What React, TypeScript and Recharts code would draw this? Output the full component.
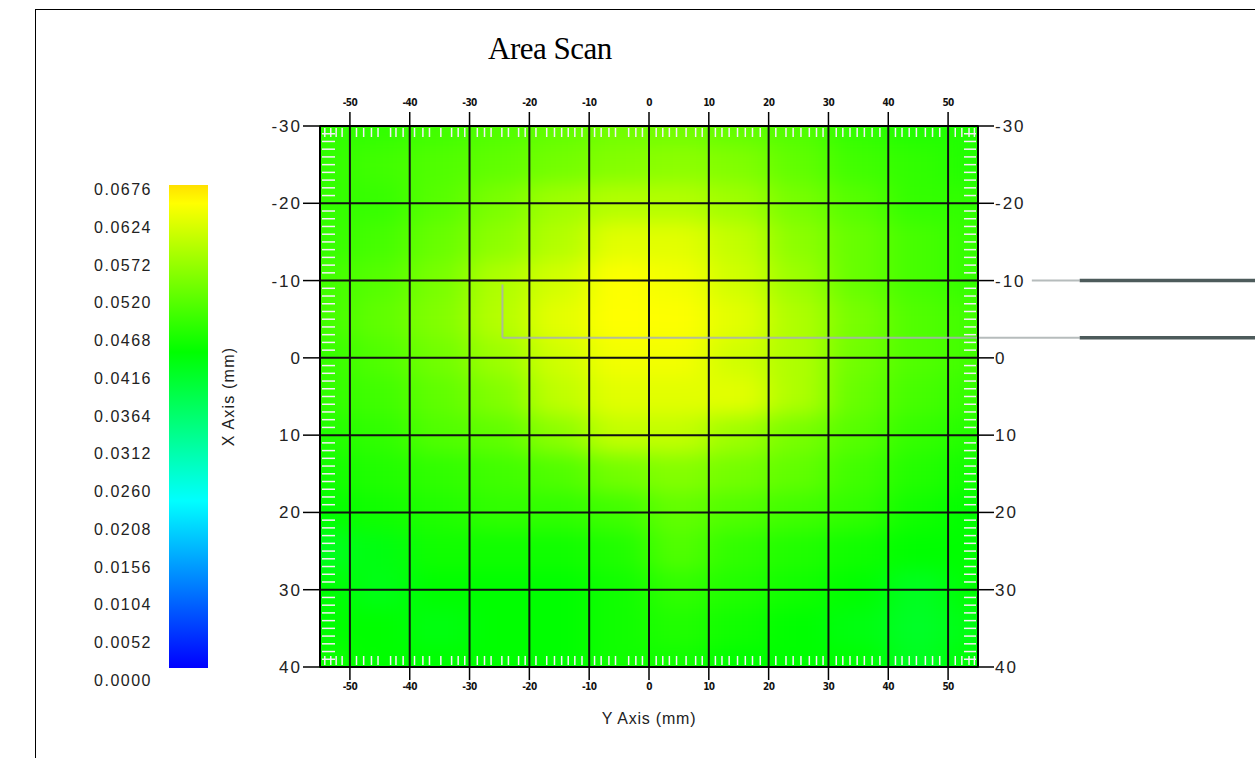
import React from 'react';
import {
  ScatterChart,
  Scatter,
  XAxis,
  YAxis,
  CartesianGrid,
  ReferenceLine,
} from 'recharts';

// scan grid (Y axis mm across, X axis mm down)
const scanCols = [-55, -45, -35, -25, -15, -5, 5, 15, 25, 35, 45, 55];
const scanRows = [-30, -25, -20, -15, -10, -5, 0, 5, 10, 15, 20, 25, 30, 35, 40];
const intensity = [
  [0.0481, 0.0481, 0.0494, 0.0507, 0.052, 0.0533, 0.0533, 0.052, 0.0507, 0.0481, 0.0468, 0.0468],
  [0.0481, 0.0494, 0.0507, 0.052, 0.0536, 0.055, 0.0556, 0.0546, 0.052, 0.0494, 0.0481, 0.0468],
  [0.0484, 0.0486, 0.0513, 0.0542, 0.0572, 0.0588, 0.0588, 0.0572, 0.0539, 0.0511, 0.0484, 0.0481],
  [0.0484, 0.0498, 0.0527, 0.0558, 0.0588, 0.0626, 0.0626, 0.06, 0.0556, 0.0525, 0.0498, 0.0484],
  [0.0494, 0.0511, 0.0541, 0.0585, 0.0614, 0.0648, 0.064, 0.0612, 0.0569, 0.0525, 0.0498, 0.0484],
  [0.0494, 0.052, 0.0548, 0.059, 0.0628, 0.065, 0.0648, 0.0626, 0.0584, 0.0539, 0.0507, 0.0494],
  [0.0484, 0.0507, 0.0535, 0.057, 0.0612, 0.064, 0.064, 0.0612, 0.0584, 0.0533, 0.0507, 0.0494],
  [0.0481, 0.0494, 0.052, 0.0548, 0.0598, 0.0626, 0.0626, 0.0626, 0.0584, 0.0525, 0.0498, 0.0484],
  [0.0468, 0.0481, 0.0507, 0.052, 0.0556, 0.06, 0.06, 0.057, 0.0539, 0.0511, 0.0484, 0.047],
  [0.0455, 0.0468, 0.0481, 0.0494, 0.0507, 0.0536, 0.055, 0.0536, 0.052, 0.0494, 0.047, 0.0455],
  [0.0442, 0.0455, 0.0468, 0.0481, 0.0481, 0.0494, 0.0522, 0.0507, 0.0494, 0.0481, 0.0455, 0.0442],
  [0.0416, 0.0429, 0.0455, 0.0455, 0.0455, 0.0468, 0.0507, 0.0481, 0.0468, 0.0455, 0.0442, 0.0442],
  [0.0442, 0.0425, 0.0442, 0.0442, 0.0442, 0.0455, 0.0481, 0.0468, 0.0455, 0.0442, 0.0416, 0.0442],
  [0.0442, 0.0442, 0.0429, 0.0442, 0.0442, 0.0455, 0.0468, 0.0455, 0.0442, 0.0429, 0.041, 0.0429],
  [0.0455, 0.0442, 0.0442, 0.0442, 0.0442, 0.0455, 0.0455, 0.0442, 0.0442, 0.0442, 0.0416, 0.0442],
];

const xTicks = [-50, -40, -30, -20, -10, 0, 10, 20, 30, 40, 50];
const yTicks = [-30, -20, -10, 0, 10, 20, 30, 40];

// scan point markers along the edges
const edgeTicksX = [
  -54.2, -53.2, -52.3, -51.3, -48.9, -47.7, -46.4, -45.3, -43.2, -42.3, -41.1, -39.2, -37.8, -36.7,
  -34.8, -33.0, -31.9, -30.8, -28.7, -27.5, -26.4, -24.6, -23.5, -21.8, -20.7, -18.9, -17.1, -15.8,
  -14.6, -13.5, -12.4, -11.2, -9.1, -8.0, -6.7, -5.6, -3.4, -2.2, -1.1, 1.2, 2.3, 3.4, 4.6, 6.2, 7.8,
  8.9, 11.1, 12.2, 13.4, 14.8, 16.1, 17.3, 18.6, 21.2, 22.9, 24.1, 25.4, 26.8, 28.0, 29.1, 31.3, 32.4,
  33.6, 34.8, 36.0, 37.3, 38.6, 41.2, 42.3, 43.5, 44.7, 46.2, 47.4, 48.6, 51.2, 52.3, 53.5, 54.4,
];
const edgeTicksY = [
  -29, -28, -27, -26, -25, -24, -23, -22, -21, -19, -18, -17, -16, -15, -14, -13, -12, -11,
  -9, -8, -7, -6, -5, -4, -3, -2, -1, 1, 2, 3, 4, 5, 6, 7, 8, 9, 11, 12, 13, 14, 15, 16, 17, 18, 19,
  21, 22, 23, 24, 25, 26, 27, 28, 29, 31, 32, 33, 34, 35, 36, 37, 38, 39,
];

// probe outline (light inside, dark cable to the right)
const probeLight = [
  [{ x: -24.5, y: -9.5 }, { x: -24.5, y: -2.6 }],
  [{ x: -24.5, y: -2.6 }, { x: 72, y: -2.6 }],
  [{ x: 64, y: -10 }, { x: 72, y: -10 }],
];
const probeDark = [
  [{ x: 72, y: -10 }, { x: 102, y: -10 }],
  [{ x: 72, y: -2.6 }, { x: 102, y: -2.6 }],
];

const colorbarLabels = [
  '0.0676', '0.0624', '0.0572', '0.0520', '0.0468', '0.0416', '0.0364',
  '0.0312', '0.0260', '0.0208', '0.0156', '0.0104', '0.0052', '0.0000',
];
const colorStops: [number, string][] = [
  [0, '#0000ff'],
  [0.0234, '#00ffff'],
  [0.0442, '#00ff00'],
  [0.065, '#ffff00'],
  [0.0676, '#ffe000'],
];
const zMax = 0.0676;

const W = 1255;
const H = 758;
const MARGIN = { top: 76, right: 227, bottom: 41, left: 220 };
const LEFT_W = 100;
const RIGHT_W = 50;
const TOP_H = 50;
const BOTTOM_H = 50;
const X_DOMAIN: [number, number] = [-55, 55];
const Y_DOMAIN: [number, number] = [-30, 40];
const plotW = W - MARGIN.left - MARGIN.right - LEFT_W - RIGHT_W;
const plotH = H - MARGIN.top - MARGIN.bottom - TOP_H - BOTTOM_H;
const pxX = plotW / (X_DOMAIN[1] - X_DOMAIN[0]);
const pxY = plotH / (Y_DOMAIN[1] - Y_DOMAIN[0]);

const hex = (c: string) => [1, 3, 5].map(i => parseInt(c.slice(i, i + 2), 16));

const colorFor = (z: number) => {
  const v = Math.max(0, Math.min(zMax, z));
  for (let i = 1; i < colorStops.length; i++) {
    const [v1, c1] = colorStops[i];
    if (v <= v1) {
      const [v0, c0] = colorStops[i - 1];
      const t = (v - v0) / (v1 - v0);
      const a = hex(c0);
      const b = hex(c1);
      return `rgb(${a.map((n, k) => Math.round(n + (b[k] - n) * t)).join(',')})`;
    }
  }
  return colorStops[colorStops.length - 1][1];
};

const heatCells = scanRows.flatMap((v, r) =>
  scanCols.map((h, c) => ({ x: h, y: v, z: intensity[r][c] }))
);
const halfCol = (scanCols[1] - scanCols[0]) / 2;
const halfRow = (scanRows[1] - scanRows[0]) / 2;

const topMarks = edgeTicksX.map(x => ({ x, y: Y_DOMAIN[0] }));
const bottomMarks = edgeTicksX.map(x => ({ x, y: Y_DOMAIN[1] }));
const leftMarks = edgeTicksY.map(y => ({ x: X_DOMAIN[0], y }));
const rightMarks = edgeTicksY.map(y => ({ x: X_DOMAIN[1], y }));

const HeatCell = (props: any) => {
  const { cx, cy, payload } = props;
  const x0 = Math.max(payload.x - halfCol, X_DOMAIN[0]);
  const x1 = Math.min(payload.x + halfCol, X_DOMAIN[1]);
  const y0 = Math.max(payload.y - halfRow, Y_DOMAIN[0]);
  const y1 = Math.min(payload.y + halfRow, Y_DOMAIN[1]);
  return (
    <rect
      x={cx + (x0 - payload.x) * pxX - 0.5}
      y={cy + (y0 - payload.y) * pxY - 0.5}
      width={(x1 - x0) * pxX + 1}
      height={(y1 - y0) * pxY + 1}
      fill={colorFor(payload.z)}
    />
  );
};

const markColor = '#f6eef6';
const TopMark = (p: any) => <line x1={p.cx} x2={p.cx} y1={p.cy + 2} y2={p.cy + 11} stroke={markColor} strokeWidth={1.5} />;
const BottomMark = (p: any) => <line x1={p.cx} x2={p.cx} y1={p.cy - 2} y2={p.cy - 11} stroke={markColor} strokeWidth={1.5} />;
const LeftMark = (p: any) => <line x1={p.cx + 2} x2={p.cx + 15} y1={p.cy} y2={p.cy} stroke={markColor} strokeWidth={1.5} />;
const RightMark = (p: any) => <line x1={p.cx - 2} x2={p.cx - 14} y1={p.cy} y2={p.cy} stroke={markColor} strokeWidth={1.5} />;

const sideTick = { fontSize: 17, fill: '#222', fontFamily: 'Liberation Sans, Arial, sans-serif', letterSpacing: 2 };
const smallTick = {
  fontSize: 10,
  fontWeight: 700,
  fill: '#111',
  fontFamily: 'Liberation Sans Narrow, DejaVu Sans Condensed, Liberation Sans, sans-serif',
  letterSpacing: -0.6,
};

const LeftTitle = (props: any) => {
  const vb = props.viewBox || { x: MARGIN.left, y: MARGIN.top + TOP_H, height: plotH };
  const x = vb.x + 8;
  const y = vb.y + vb.height / 2;
  return (
    <text x={x} y={y} transform={`rotate(-90 ${x} ${y})`} textAnchor="middle" dominantBaseline="central"
      style={{ fontSize: 16, fill: '#222', fontFamily: 'Liberation Sans, Arial, sans-serif', letterSpacing: 1.2 }}>
      X Axis (mm)
    </text>
  );
};

const BottomTitle = (props: any) => {
  const vb = props.viewBox || { x: MARGIN.left + LEFT_W, y: MARGIN.top + TOP_H + plotH, width: plotW };
  return (
    <text x={vb.x + vb.width / 2} y={vb.y + 51} textAnchor="middle" dominantBaseline="central"
      style={{ fontSize: 16, fill: '#222', fontFamily: 'Liberation Sans, Arial, sans-serif', letterSpacing: 0.8 }}>
      Y Axis (mm)
    </text>
  );
};

const App: React.FC = () => {
  const gradient = `linear-gradient(to top, ${colorStops
    .map(([v, c]) => `${c} ${((v / zMax) * 100).toFixed(1)}%`)
    .join(', ')})`;

  return (
    <div style={{ position: 'absolute', left: 0, top: 0, width: W, height: H, background: '#fff', overflow: 'hidden' }}>
      <style>{`.heat-layer { filter: url(#heatBlur); }`}</style>
      <svg width={0} height={0} style={{ position: 'absolute' }}>
        <defs>
          <filter id="heatBlur" x="0" y="0" width="1" height="1" colorInterpolationFilters="sRGB">
            <feGaussianBlur stdDeviation="16 10" edgeMode="duplicate" />
            <feComponentTransfer>
              <feFuncA type="linear" slope="0" intercept="1" />
            </feComponentTransfer>
          </filter>
        </defs>
      </svg>

      {/* frame */}
      <div style={{ position: 'absolute', left: 35, top: 9, right: 0, bottom: 0, borderTop: '1.5px solid #000', borderLeft: '1.5px solid #000' }} />

      <div style={{ position: 'absolute', left: 488, top: 31, fontFamily: 'Liberation Serif, Times New Roman, serif', fontSize: 31, color: '#000', lineHeight: '36px', letterSpacing: -0.5 }}>
        Area Scan
      </div>

      {/* colour bar */}
      <div style={{ position: 'absolute', left: 169, top: 185, width: 39, height: 483, background: gradient }} />
      {colorbarLabels.map((t, i) => (
        <div key={t} style={{
          position: 'absolute', right: W - 152, top: 190 + i * ((681 - 190) / 13) - 10, lineHeight: '20px',
          fontFamily: 'Liberation Sans, Arial, sans-serif', fontSize: 16, letterSpacing: 1.5, color: '#222',
        }}>
          {t}
        </div>
      ))}

      <div style={{ position: 'absolute', left: 0, top: 0 }}>
        <ScatterChart width={W} height={H} margin={MARGIN}>
          <Scatter data={heatCells} xAxisId="b" yAxisId="l" shape={HeatCell} className="heat-layer" isAnimationActive={false} />
          <CartesianGrid xAxisId="b" yAxisId="l" stroke="#111" strokeWidth={2} zIndex={650} />
          <Scatter data={topMarks} xAxisId="t" yAxisId="l" shape={TopMark} isAnimationActive={false} zIndex={640} />
          <Scatter data={bottomMarks} xAxisId="b" yAxisId="l" shape={BottomMark} isAnimationActive={false} zIndex={640} />
          <Scatter data={leftMarks} xAxisId="b" yAxisId="l" shape={LeftMark} isAnimationActive={false} zIndex={640} />
          <Scatter data={rightMarks} xAxisId="b" yAxisId="r" shape={RightMark} isAnimationActive={false} zIndex={640} />
          {probeLight.map((seg, i) => (
            <ReferenceLine key={`pl${i}`} xAxisId="b" yAxisId="l" segment={seg} ifOverflow="visible"
              stroke="#a9b0b0" strokeOpacity={0.85} strokeWidth={2} zIndex={660} />
          ))}
          {probeDark.map((seg, i) => (
            <ReferenceLine key={`pd${i}`} xAxisId="b" yAxisId="l" segment={seg} ifOverflow="visible"
              stroke="#4d5b5b" strokeWidth={3.5} zIndex={660} />
          ))}
          <XAxis xAxisId="b" type="number" dataKey="x" domain={X_DOMAIN} ticks={xTicks} interval={0}
            orientation="bottom" height={BOTTOM_H} tickSize={13} tickMargin={3}
            axisLine={{ stroke: '#000', strokeWidth: 2 }} tickLine={{ stroke: '#000', strokeWidth: 1.5 }}
            tick={smallTick} label={<BottomTitle />} zIndex={800} />
          <XAxis xAxisId="t" type="number" dataKey="x" domain={X_DOMAIN} ticks={xTicks} interval={0}
            orientation="top" height={TOP_H} tickSize={14} tickMargin={6}
            axisLine={{ stroke: '#000', strokeWidth: 2 }} tickLine={{ stroke: '#000', strokeWidth: 1.5 }}
            tick={smallTick} zIndex={800} />
          <YAxis yAxisId="l" type="number" dataKey="y" domain={Y_DOMAIN} ticks={yTicks} interval={0} reversed
            orientation="left" width={LEFT_W} tickSize={17} tickMargin={1}
            axisLine={{ stroke: '#000', strokeWidth: 2 }} tickLine={{ stroke: '#000', strokeWidth: 1.5 }}
            tick={sideTick} label={<LeftTitle />} zIndex={800} />
          <YAxis yAxisId="r" type="number" dataKey="y" domain={Y_DOMAIN} ticks={yTicks} interval={0} reversed
            orientation="right" width={RIGHT_W} tickSize={16} tickMargin={1}
            axisLine={{ stroke: '#000', strokeWidth: 2 }} tickLine={{ stroke: '#000', strokeWidth: 1.5 }}
            tick={sideTick} zIndex={800} />
        </ScatterChart>
      </div>
    </div>
  );
};

export default App;
